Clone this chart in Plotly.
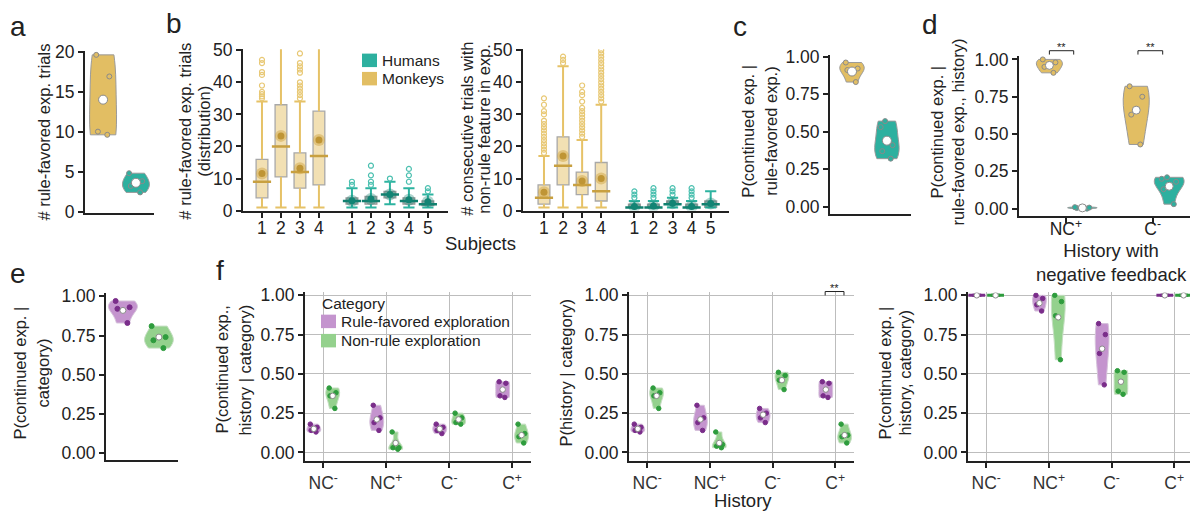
import numpy as np
import plotly.graph_objects as go

# The page body has an 8 px margin, so the figure is sized to fit the window
# and all layout positions below are given in window pixels.
WIN_W, WIN_H = 1198, 525
OFF = 8
W, H = WIN_W - OFF, WIN_H - OFF
FONT = "Liberation Sans, Arial, sans-serif"
INK = "#222222"
TICK = 17.5
YTITLE = 16.5
XTITLE = 18.5
LEG = 15.5

# ---------------- colours ----------------
GOLD_FILL = "#E2BE63"
TEAL_FILL = "#2DB09F"
VIOLIN_EDGE = "#9A9A9A"
PURPLE_FILL = "#C494CE"
PURPLE_EDGE = "#D6C2DB"
PURPLE_DOT = "#7A2D8A"
GREEN_FILL = "#94D18D"
GREEN_EDGE = "#C5DEC2"
GREEN_DOT = "#2E9C3D"

# ================= DATA =================
# panel a
a_monkeys = [19.6, 16.9, 10.0, 9.6]
a_monkeys_median = 14.0
a_humans = [4.8, 3.8, 3.2, 2.4]
a_humans_median = 3.6

# panel b (box statistics per subject)
b_labels_monkeys = ["1", "2", "3", "4"]
b_labels_humans = ["1", "2", "3", "4", "5"]
bL_m_low = [1, 1, 1, 1]
bL_m_q1 = [4, 10.5, 7, 8]
bL_m_med = [9, 20, 12, 17]
bL_m_q3 = [16, 33, 18, 31]
bL_m_high = [34, 55, 34, 55]
bL_m_mean = [11.6, 23.3, 13.2, 22.0]
bL_m_out = [[35, 35.6, 36.3, 37, 39, 42.3, 43.2, 46, 47], [],
            [35, 36, 37, 38, 39, 40, 43, 44, 45, 46, 49], []]
bL_h_low = [1, 1, 2, 1, 1]
bL_h_q1 = [2, 2, 4, 2, 1.6]
bL_h_med = [3, 3, 5, 3, 2]
bL_h_q3 = [4, 4.4, 6, 4, 3]
bL_h_high = [7, 7, 9, 7, 5]
bL_h_mean = [3.1, 3.6, 5.0, 3.4, 2.8]
bL_h_out = [[8, 9], [8, 9, 11, 14], [10], [9, 11, 13], [6, 7]]

bR_m_low = [1, 1, 1, 1]
bR_m_q1 = [2, 8, 5, 3]
bR_m_med = [4, 14, 8, 6]
bR_m_q3 = [8, 23, 12, 15]
bR_m_high = [17, 45, 22, 33]
bR_m_mean = [5.7, 17.0, 9.2, 10.0]
bR_m_out = [[18, 19, 20, 21, 22, 23, 24, 25, 26, 27, 28, 30, 31, 33, 35],
            [46, 47, 48],
            [23, 24, 25, 26, 27, 28, 29, 30, 31, 32, 34, 36, 37, 39],
            [34, 35, 36, 37, 38, 39, 40, 41, 42, 43, 44, 45, 46, 47, 48, 49, 50]]
bR_h_low = [1, 1, 1, 1, 1]
bR_h_q1 = [1, 1, 2, 1, 1]
bR_h_med = [1, 1, 2, 1, 2]
bR_h_q3 = [2, 2, 3, 2, 3]
bR_h_high = [3, 3, 4, 3, 6]
bR_h_mean = [1.3, 1.4, 2.3, 1.3, 2.2]
bR_h_out = [[4, 5, 6], [4, 5, 6, 7], [5, 6, 7], [4, 5, 6, 7], []]

# panel c
c_monkeys = [0.96, 0.92, 0.91, 0.83]
c_monkeys_median = 0.90
c_humans = [0.57, 0.53, 0.41, 0.37, 0.32]
c_humans_median = 0.44

# panel d
d_history = ["NC<sup>+</sup>", "C<sup>-</sup>"]
d_monkeys = [[1.00, 0.98, 0.95, 0.91], [0.82, 0.75, 0.63, 0.43]]
d_monkeys_median = [0.96, 0.66]
d_humans = [[0.0, 0.004, 0.007, 0.01], [0.21, 0.20, 0.18, 0.13, 0.03]]
d_humans_median = [0.005, 0.15]

# panel e
e_rule = [0.97, 0.93, 0.92, 0.83]
e_rule_median = 0.91
e_nonrule = [0.81, 0.74, 0.72, 0.67]
e_nonrule_median = 0.74

# panel f
f_history = ["NC<sup>-</sup>", "NC<sup>+</sup>", "C<sup>-</sup>", "C<sup>+</sup>"]
f1_rule = [[0.18, 0.16, 0.14, 0.13], [0.30, 0.22, 0.19, 0.14],
           [0.18, 0.16, 0.14, 0.12], [0.45, 0.44, 0.36, 0.35]]
f1_rule_median = [0.15, 0.21, 0.15, 0.40]
f1_nonrule = [[0.41, 0.38, 0.36, 0.28], [0.13, 0.03, 0.03, 0.02],
              [0.25, 0.22, 0.19, 0.18], [0.18, 0.12, 0.10, 0.06]]
f1_nonrule_median = [0.36, 0.06, 0.21, 0.11]

f2_rule = [[0.18, 0.16, 0.14, 0.13], [0.30, 0.22, 0.19, 0.14],
           [0.28, 0.25, 0.22, 0.19], [0.45, 0.44, 0.36, 0.35]]
f2_rule_median = [0.15, 0.21, 0.24, 0.40]
f2_nonrule = [[0.41, 0.38, 0.36, 0.28], [0.13, 0.05, 0.04, 0.03],
              [0.51, 0.49, 0.46, 0.40], [0.18, 0.11, 0.10, 0.06]]
f2_nonrule_median = [0.36, 0.06, 0.46, 0.11]

f3_rule = [[1.0, 1.0, 1.0, 1.0], [1.0, 0.98, 0.94, 0.90],
           [0.82, 0.75, 0.63, 0.43], [1.0, 1.0, 1.0, 1.0]]
f3_rule_median = [1.0, 0.95, 0.66, 1.0]
f3_nonrule = [[1.0, 1.0, 1.0, 1.0], [1.0, 0.96, 0.87, 0.59],
              [0.52, 0.51, 0.39, 0.37], [1.0, 1.0, 1.0, 1.0]]
f3_nonrule_median = [1.0, 0.86, 0.45, 1.0]

b_legend = ["Humans", "Monkeys"]
f_legend_title = "Category"
f_legend = ["Rule-favored exploration", "Non-rule exploration"]

# ================= HELPERS =================
def xf(px):
    return (px - OFF) / W

def yf(py):
    return 1 - (py - OFF) / H

def xd(l, r):
    return [xf(l), xf(r)]

def yd(t, b):
    return [yf(b), yf(t)]

fig = go.Figure()

def violin(ax, xpos, vals, med, fill, edge, dot, dotline, width, dotsize, medsize):
    xa, ya = ("x", "y") if ax == 1 else (f"x{ax}", f"y{ax}")
    vals = list(vals)
    if np.ptp(vals) == 0:
        fig.add_trace(go.Scatter(x=[xpos], y=[vals[0]], mode="markers", xaxis=xa, yaxis=ya,
                                 marker=dict(symbol="line-ew", size=12, line=dict(color=dot, width=3)),
                                 showlegend=False, hoverinfo="skip"))
        fig.add_trace(go.Scatter(x=[xpos - width * 0.25, xpos + width * 0.25], y=[vals[0]] * 2,
                                 mode="markers", xaxis=xa, yaxis=ya,
                                 marker=dict(color=dot, size=dotsize - 1),
                                 showlegend=False, hoverinfo="skip"))
    else:
        fig.add_trace(go.Violin(x=[xpos] * len(vals), y=vals, xaxis=xa, yaxis=ya,
                                fillcolor=fill, line=dict(color=edge, width=1), width=width,
                                spanmode="hard", scalemode="width", points="all", pointpos=0,
                                jitter=0.6, opacity=1,
                                marker=dict(color=dot, size=dotsize, line=dict(color=dotline, width=1)),
                                box_visible=False, meanline_visible=False,
                                showlegend=False, hoverinfo="skip"))
    fig.add_trace(go.Scatter(x=[xpos], y=[med], mode="markers", xaxis=xa, yaxis=ya,
                             marker=dict(color="white", size=medsize, line=dict(color="#8A8A8A", width=1)),
                             showlegend=False, hoverinfo="skip"))

def boxes(ax, pos, low, q1, med, q3, high, mean, outs, st):
    xa, ya = f"x{ax}", f"y{ax}"
    pos = list(pos)
    fig.add_trace(go.Box(x=pos, q1=q1, median=med, q3=q3, lowerfence=q1, upperfence=q3,
                         width=0.62, fillcolor=st["fill"], line=dict(color=st["edge"], width=1.3),
                         boxpoints=False, xaxis=xa, yaxis=ya, showlegend=False, hoverinfo="skip"))
    wx, wy = [], []
    for p, lo, a, b, hi in zip(pos, low, q1, q3, high):
        wx += [p, p, None, p, p, None]
        wy += [lo, a, None, b, hi, None]
    fig.add_trace(go.Scatter(x=wx, y=wy, mode="lines", line=dict(color=st["whisk"], width=2),
                             xaxis=xa, yaxis=ya, showlegend=False, hoverinfo="skip"))
    fig.add_trace(go.Scatter(x=pos * 2, y=list(low) + list(high), mode="markers",
                             marker=dict(symbol="line-ew", size=8, line=dict(color=st["whisk"], width=2)),
                             xaxis=xa, yaxis=ya, showlegend=False, hoverinfo="skip"))
    ox, oy = [], []
    for p, o in zip(pos, outs):
        ox += [p] * len(o)
        oy += list(o)
    fig.add_trace(go.Scatter(x=ox, y=oy, mode="markers",
                             marker=dict(symbol="circle-open", size=5, color=st["out"],
                                         line=dict(color=st["out"], width=1.2)),
                             xaxis=xa, yaxis=ya, showlegend=False, hoverinfo="skip"))
    fig.add_trace(go.Scatter(x=pos, y=med, mode="markers",
                             marker=dict(symbol="line-ew", size=13, line=dict(color=st["med"], width=2.5)),
                             xaxis=xa, yaxis=ya, showlegend=False, hoverinfo="skip"))
    fig.add_trace(go.Scatter(x=pos, y=mean, mode="markers",
                             marker=dict(size=12, color=st["halo"]),
                             xaxis=xa, yaxis=ya, showlegend=False, hoverinfo="skip"))
    fig.add_trace(go.Scatter(x=pos, y=mean, mode="markers",
                             marker=dict(size=7, color=st["mean"]),
                             xaxis=xa, yaxis=ya, showlegend=False, hoverinfo="skip"))

MONKEY_BOX = dict(fill="#F2E0B3", edge="#A8A8A8", whisk="#E6C267", med="#C8A040",
                  out="#E8C874", halo="rgba(205,160,60,0.45)", mean="#BF9535")
HUMAN_BOX = dict(fill="#B6BAB8", edge="#9A9A9A", whisk="#2DB3A0", med="#11806F",
                 out="#4CC0B0", halo="rgba(19,132,116,0.35)", mean="#138474")

# ---------------- panel a ----------------
violin(1, 0, a_monkeys, a_monkeys_median, GOLD_FILL, VIOLIN_EDGE, GOLD_FILL, "#8A8A8A", 0.82, 5, 9)
violin(1, 1, a_humans, a_humans_median, TEAL_FILL, VIOLIN_EDGE, TEAL_FILL, "#8A8A8A", 0.82, 5, 9)

# ---------------- panel b ----------------
m_pos = np.arange(len(b_labels_monkeys)) + 1.0
h_pos = np.arange(len(b_labels_humans)) + 5.74
boxes(2, m_pos, bL_m_low, bL_m_q1, bL_m_med, bL_m_q3, bL_m_high, bL_m_mean, bL_m_out, MONKEY_BOX)
boxes(2, h_pos, bL_h_low, bL_h_q1, bL_h_med, bL_h_q3, bL_h_high, bL_h_mean, bL_h_out, HUMAN_BOX)
boxes(3, m_pos, bR_m_low, bR_m_q1, bR_m_med, bR_m_q3, bR_m_high, bR_m_mean, bR_m_out, MONKEY_BOX)
boxes(3, h_pos, bR_h_low, bR_h_q1, bR_h_med, bR_h_q3, bR_h_high, bR_h_mean, bR_h_out, HUMAN_BOX)

# ---------------- panel c ----------------
violin(4, 0, c_monkeys, c_monkeys_median, GOLD_FILL, VIOLIN_EDGE, GOLD_FILL, "#8A8A8A", 0.7, 5, 9)
violin(4, 1, c_humans, c_humans_median, TEAL_FILL, VIOLIN_EDGE, TEAL_FILL, "#8A8A8A", 0.7, 5, 9)

# ---------------- panel d ----------------
OFF_D = 0.19
for i in range(len(d_history)):
    violin(5, i - OFF_D, d_monkeys[i], d_monkeys_median[i], GOLD_FILL, VIOLIN_EDGE, GOLD_FILL, "#8A8A8A", 0.3, 5, 8)
    violin(5, i + OFF_D, d_humans[i], d_humans_median[i], TEAL_FILL, VIOLIN_EDGE, TEAL_FILL, "#8A8A8A", 0.34, 5, 8)

# ---------------- panel e ----------------
violin(6, 0, e_rule, e_rule_median, PURPLE_FILL, PURPLE_EDGE, PURPLE_DOT, PURPLE_DOT, 0.8, 5, 6)
violin(6, 1, e_nonrule, e_nonrule_median, GREEN_FILL, GREEN_EDGE, GREEN_DOT, GREEN_DOT, 0.8, 5, 6)

# ---------------- panel f ----------------
OFF_F = 0.15
for ax, rule, rmed, non, nmed in [(7, f1_rule, f1_rule_median, f1_nonrule, f1_nonrule_median),
                                  (8, f2_rule, f2_rule_median, f2_nonrule, f2_nonrule_median),
                                  (9, f3_rule, f3_rule_median, f3_nonrule, f3_nonrule_median)]:
    for i in range(len(f_history)):
        violin(ax, i - OFF_F, rule[i], rmed[i], PURPLE_FILL, PURPLE_EDGE, PURPLE_DOT, PURPLE_DOT, 0.22, 4.5, 5.5)
        violin(ax, i + OFF_F, non[i], nmed[i], GREEN_FILL, GREEN_EDGE, GREEN_DOT, GREEN_DOT, 0.22, 4.5, 5.5)

# ================= AXES =================
def ax_style(**kw):
    d = dict(showline=True, linecolor=INK, linewidth=2, ticks="outside", ticklen=5, tickwidth=1.5,
             tickcolor=INK, tickfont=dict(size=TICK, color=INK, family=FONT), showgrid=False,
             zeroline=False, fixedrange=True)
    d.update(kw)
    return d

prob_ticks = dict(tickvals=[0, 0.25, 0.5, 0.75, 1.0], tickformat=".2f")
f_grid = dict(showgrid=True, gridcolor="#BDBDBD", gridwidth=1)

layout = dict(
    xaxis=ax_style(domain=xd(85, 154), range=[-0.55, 1.55], ticks="", showticklabels=False, anchor="y"),
    yaxis=ax_style(domain=yd(43, 211), range=[-0.12, 20.12], dtick=5, anchor="x"),
    xaxis2=ax_style(domain=xd(243, 448), range=[0, 10.8], anchor="y2", ticklabelstandoff=-5,
                    tickvals=list(m_pos) + list(h_pos), ticktext=b_labels_monkeys + b_labels_humans),
    yaxis2=ax_style(domain=yd(41.5, 209), range=[0, 50.3], dtick=10, anchor="x2"),
    xaxis3=ax_style(domain=xd(523, 729), range=[-0.1, 10.7], anchor="y3", ticklabelstandoff=-5,
                    tickvals=list(m_pos) + list(h_pos), ticktext=b_labels_monkeys + b_labels_humans),
    yaxis3=ax_style(domain=yd(41.5, 209), range=[0, 50.3], dtick=10, anchor="x3"),
    xaxis4=ax_style(domain=xd(830, 911), range=[-0.63, 1.69], ticks="", showticklabels=False, anchor="y4"),
    yaxis4=ax_style(domain=yd(47, 212), range=[-0.045, 1.013], anchor="x4", **prob_ticks),
    xaxis5=ax_style(domain=xd(1019, 1197), range=[-0.54, 1.51], anchor="y5", ticklabelstandoff=-9,
                    tickvals=list(range(len(d_history))), ticktext=d_history),
    yaxis5=ax_style(domain=yd(48, 215), range=[-0.052, 1.026], anchor="x5", **prob_ticks),
    xaxis6=ax_style(domain=xd(106, 178), range=[-0.47, 1.53], ticks="", showticklabels=False, anchor="y6"),
    yaxis6=ax_style(domain=yd(295, 468), range=[-0.043, 1.018], anchor="x6", **prob_ticks),
)
for k, (l, r) in enumerate([(305, 531), (629, 854), (968, 1193)]):
    n = 7 + k
    layout[f"xaxis{n}"] = ax_style(domain=xd(l, r), range=[-0.29, 3.3], anchor=f"y{n}",
                                   tickvals=list(range(len(f_history))), ticktext=f_history,
                                   tickfont=dict(size=TICK, color="#333333", family=FONT), **f_grid)
    layout[f"yaxis{n}"] = ax_style(domain=yd(294, 469), range=[-0.055, 1.018], anchor=f"x{n}",
                                   **prob_ticks, **f_grid)

fig.update_layout(**layout)

# ================= TEXT / ANNOTATIONS =================
ann = []
shapes = []

def text(t, px, py, size, angle=0, anchor="center"):
    ann.append(dict(text=t, x=xf(px), y=yf(py), xref="paper", yref="paper", showarrow=False,
                    xanchor=anchor, yanchor="middle", textangle=angle,
                    font=dict(size=size, color=INK, family=FONT)))

def ytitle(lines, xs, py):
    for t, px in zip(lines, xs):
        text(t, px, py, YTITLE, -90)

# panel letters
for letter, px, py in [("a", 18, 18), ("b", 174, 15), ("c", 740, 18), ("d", 930, 16),
                       ("e", 18, 274), ("f", 220, 271)]:
    text(letter, px, py, 28)

# y-axis titles (one annotation per line)
ytitle(["# rule-favored exp. trials"], [44], 128)
ytitle(["# rule-favored exp. trials", "(distribution)"], [185, 204], 127)
ytitle(["# consecutive trials with", "non-rule feature in exp."], [467, 484], 124)
ytitle(["P(continued exp. |", "rule-favored exp.)"], [748, 771], 127)
ytitle(["P(continued exp. |", "rule-favored exp., history)"], [937, 958], 128)
ytitle(["P(continued exp. |", "category)"], [20, 43], 378)
ytitle(["P(continued exp.,", "history | category)"], [222, 245], 374)
ytitle(["P(history | category)"], [566], 378)
ytitle(["P(continued exp. |", "history, category)"], [885, 905], 378)

# x-axis titles
text("Subjects", 481, 243, XTITLE)
text("History with<br>negative feedback", 1111, 263, XTITLE)
text("History", 743, 510, XTITLE)

# legends (panel b and f)
def legend_item(px, py, color, label):
    shapes.append(dict(type="rect", xref="paper", yref="paper", x0=xf(px), x1=xf(px + 15),
                       y0=yf(py + 7), y1=yf(py - 7), fillcolor=color, line=dict(width=0)))
    text(label, px + 18, py, LEG, anchor="left")

legend_item(362, 53, TEAL_FILL, b_legend[0])
legend_item(362, 72, GOLD_FILL, b_legend[1])
text(f_legend_title, 320, 305, LEG, anchor="left")
legend_item(321, 324, PURPLE_FILL, f_legend[0])
legend_item(321, 344, GREEN_FILL, f_legend[1])

# significance brackets
def bracket(ax, x0, x1, ytop, ydrop, ytext):
    shapes.append(dict(type="path", xref=f"x{ax}", yref="paper",
                       path=f"M {x0},{yf(ydrop)} L {x0},{yf(ytop)} L {x1},{yf(ytop)} L {x1},{yf(ydrop)}",
                       line=dict(color=INK, width=1)))
    ann.append(dict(text="**", x=(x0 + x1) / 2, y=yf(ytext), xref=f"x{ax}", yref="paper",
                    showarrow=False, xanchor="center", yanchor="middle",
                    font=dict(size=11, color=INK, family=FONT)))

bracket(5, 0 - 0.19, 0 + 0.09, 43, 47, 39)
bracket(5, 1 - 0.17, 1 + 0.115, 43, 47, 39)
bracket(8, 3 - 0.16, 3 + 0.14, 293, 297, 289)

fig.update_layout(
    width=W, height=H, margin=dict(l=0, r=0, t=0, b=0),
    paper_bgcolor="white", plot_bgcolor="white",
    font=dict(family=FONT, color=INK),
    violinmode="overlay", boxmode="overlay", showlegend=False,
    annotations=ann, shapes=shapes,
)

fig.write_html("out.html")
